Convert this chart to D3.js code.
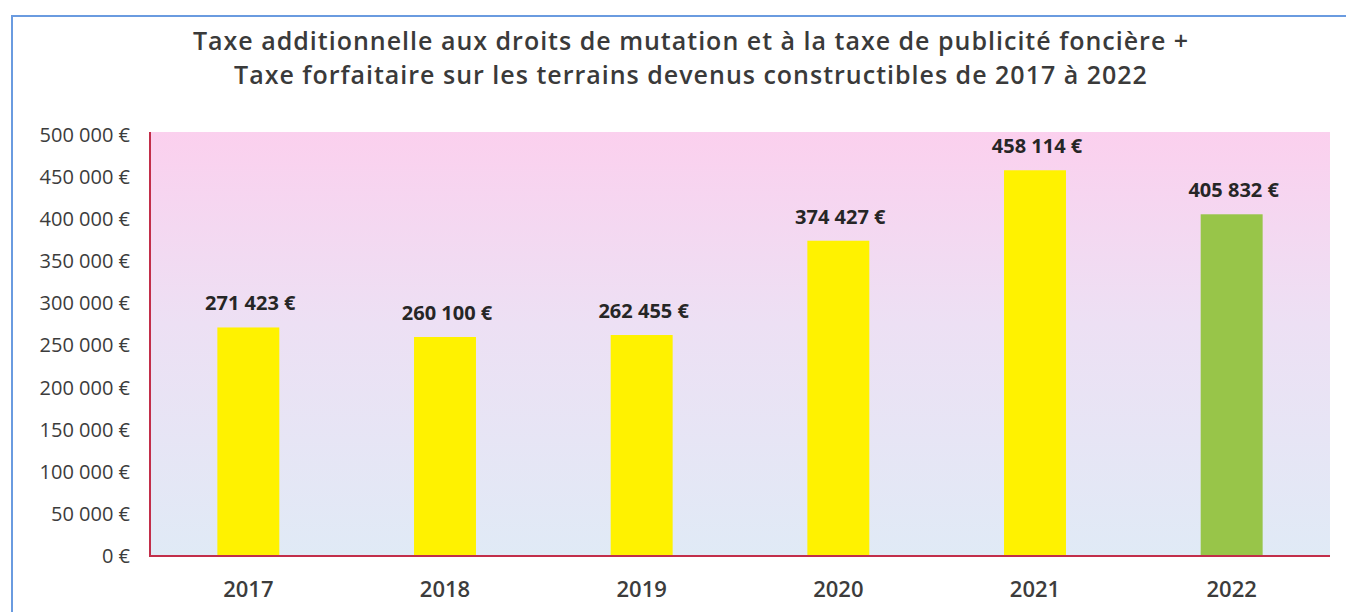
<!DOCTYPE html>
<html>
<head>
<meta charset="utf-8">
<script src="https://cdn.jsdelivr.net/npm/d3@7"></script>
<style>
  html, body { margin: 0; padding: 0; background: #ffffff; }
  svg { display: block; }
</style>
</head>
<body>
<svg id="chart" width="1346" height="612"></svg>
<script>
const titleLines = [
  "Taxe additionnelle aux droits de mutation et à la taxe de publicité foncière +",
  "Taxe forfaitaire sur les terrains devenus constructibles de 2017 à 2022"
];
const years = ["2017", "2018", "2019", "2020", "2021", "2022"];
const values = [271423, 260100, 262455, 374427, 458114, 405832];
const barColors = ["#fff200", "#fff200", "#fff200", "#fff200", "#fff200", "#98c549"];
const yTicks = [0, 50000, 100000, 150000, 200000, 250000, 300000, 350000, 400000, 450000, 500000];

const svg = d3.select("#chart");
const W = 1346, H = 612;
const plot = { left: 150, right: 1330, top: 132, bottom: 556 };

const fr = d3.formatLocale({ decimal: ",", thousands: " ", grouping: [3], currency: ["", " €"] });
const fmt = fr.format("$,");

// outer frame (top and left edges visible)
svg.append("path")
  .attr("d", `M12,${H} L12,16 L${W},16`)
  .attr("fill", "none").attr("stroke", "#6a9be0").attr("stroke-width", 2);

// background gradient
const defs = svg.append("defs");
const grad = defs.append("linearGradient").attr("id", "bg").attr("x1", 0).attr("y1", 0).attr("x2", 0).attr("y2", 1);
grad.append("stop").attr("offset", "0%").attr("stop-color", "#fbd0ee");
grad.append("stop").attr("offset", "45%").attr("stop-color", "#ede0f4");
grad.append("stop").attr("offset", "100%").attr("stop-color", "#e0eaf6");

svg.append("rect")
  .attr("x", plot.left).attr("y", plot.top)
  .attr("width", plot.right - plot.left).attr("height", plot.bottom - plot.top)
  .attr("fill", "url(#bg)");

const x = d3.scaleBand().domain(years).range([plot.left, plot.right])
  .paddingInner(0.685).paddingOuter(0.3425);
const y = d3.scaleLinear().domain([0, 500000]).range([plot.bottom, 135]);

// bars
svg.append("g").selectAll("rect").data(values).join("rect")
  .attr("x", (d, i) => x(years[i]))
  .attr("y", d => y(d))
  .attr("width", x.bandwidth())
  .attr("height", d => y(0) - y(d))
  .attr("fill", (d, i) => barColors[i]);

// data labels
svg.append("g").selectAll("text").data(values).join("text")
  .attr("x", (d, i) => x(years[i]) + x.bandwidth() / 2 + 2)
  .attr("y", d => y(d) - 17)
  .attr("text-anchor", "middle")
  .attr("font-family", "'Open Sans', sans-serif")
  .attr("font-weight", 700)
  .attr("font-size", 20)
  .attr("fill", "#262626")
  .text(d => fmt(d));

// y axis
const yAxis = d3.axisLeft(y).tickValues(yTicks).tickFormat(fmt).tickSize(0).tickPadding(20);
const yg = svg.append("g").attr("transform", `translate(${plot.left},0)`).call(yAxis);
yg.select(".domain").remove();
yg.selectAll("text")
  .attr("font-family", "'Open Sans', sans-serif")
  .attr("font-size", 20)
  .attr("fill", "#3c3c3c");

// x axis
const xAxis = d3.axisBottom(x).tickSize(0).tickPadding(25);
const xg = svg.append("g").attr("transform", `translate(0,${plot.bottom})`).call(xAxis);
xg.select(".domain").remove();
xg.selectAll("text")
  .attr("font-family", "'Open Sans', sans-serif")
  .attr("font-size", 22)
  .attr("font-weight", 600)
  .attr("fill", "#3c3c3c");

// axis lines
svg.append("line").attr("x1", plot.left).attr("x2", plot.left).attr("y1", plot.top).attr("y2", plot.bottom + 1)
  .attr("stroke", "#c22e4a").attr("stroke-width", 2);
svg.append("line").attr("x1", plot.left - 1).attr("x2", plot.right).attr("y1", plot.bottom).attr("y2", plot.bottom)
  .attr("stroke", "#c22e4a").attr("stroke-width", 2);

// title
svg.append("g").selectAll("text").data(titleLines).join("text")
  .attr("x", 691)
  .attr("y", (d, i) => 50 + i * 34)
  .attr("text-anchor", "middle")
  .attr("font-family", "'Open Sans', sans-serif")
  .attr("font-weight", 600)
  .attr("font-size", 25)
  .attr("letter-spacing", 1)
  .attr("fill", "#3a3a3a")
  .text(d => d);
</script>
</body>
</html>
